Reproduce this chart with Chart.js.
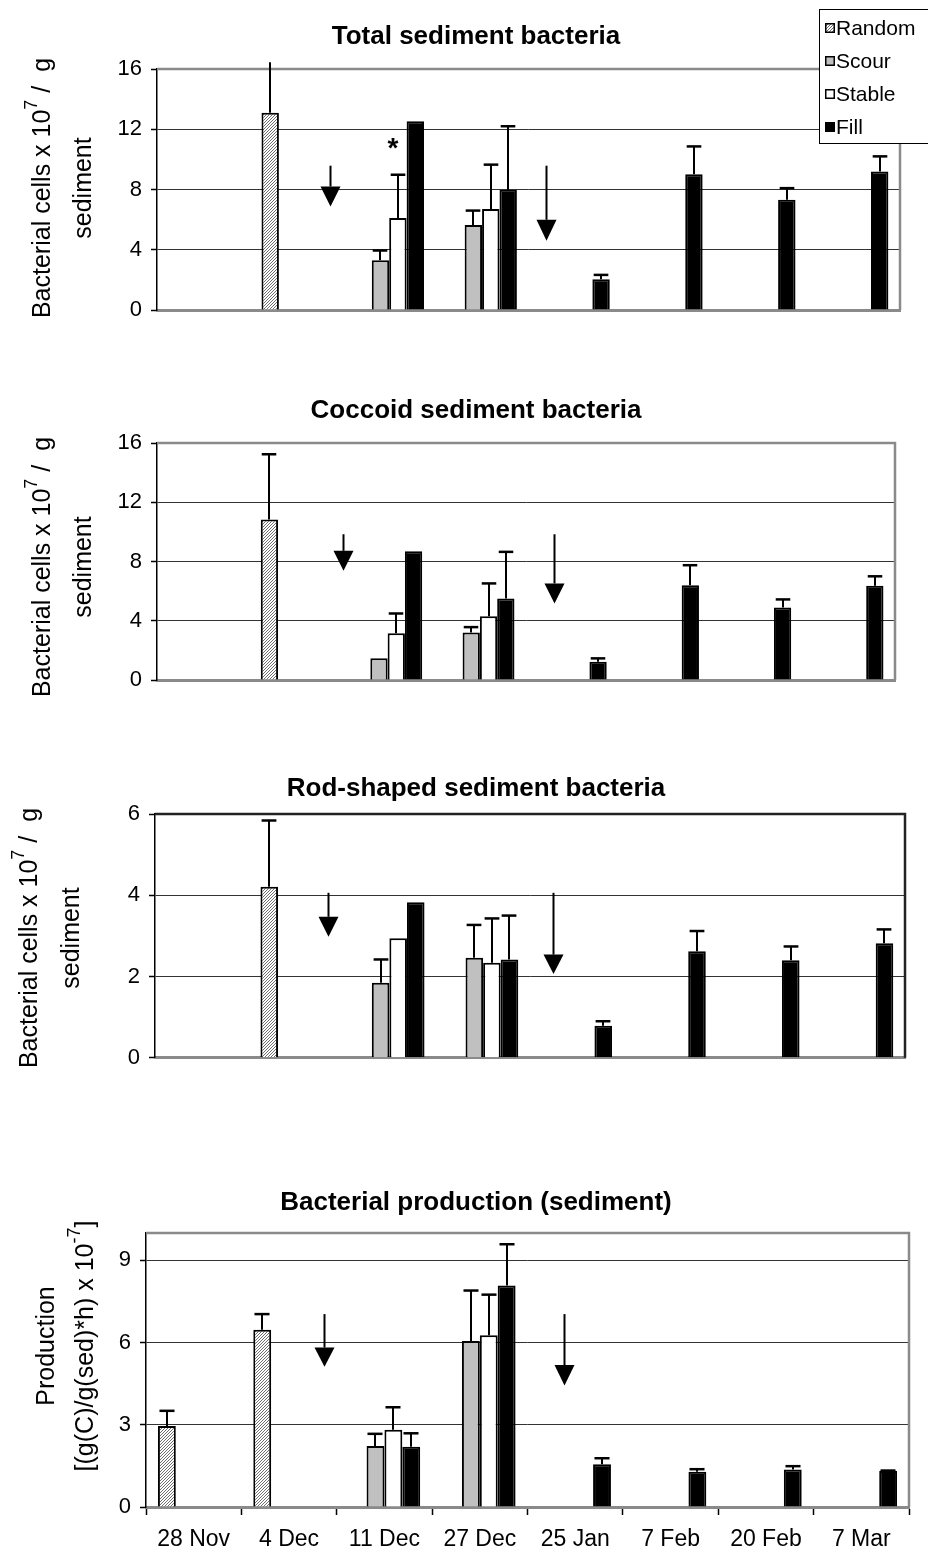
<!DOCTYPE html>
<html><head><meta charset="utf-8">
<script src="https://cdn.jsdelivr.net/npm/chart.js@4.4.1/dist/chart.umd.min.js"></script>
<style>
html,body{margin:0;padding:0;background:#fff;}
body{width:928px;height:1553px;position:relative;overflow:hidden;}
canvas{position:absolute;left:0;}
</style></head><body>
<canvas id="c1" width="928" height="340" style="top:0px"></canvas>
<canvas id="c2" width="928" height="340" style="top:370px"></canvas>
<canvas id="c3" width="928" height="340" style="top:740px"></canvas>
<canvas id="c4" width="928" height="383" style="top:1170px"></canvas>
<script>
// ---------------- DATA ----------------
const dates = ['28 Nov','4 Dec','11 Dec','27 Dec','25 Jan','7 Feb','20 Feb','7 Mar'];
const seriesNames = ['Random','Scour','Stable','Fill'];

// Total sediment bacteria (x10^7 / g sediment)
const totalRandom    = [null, 13.1, null, null, null, null, null, null];
const totalRandomErr = [null, 3.35, null, null, null, null, null, null];
const totalScour     = [null, null, 3.3, 5.65, null, null, null, null];
const totalScourErr  = [null, null, 0.65, 0.95, null, null, null, null];
const totalStable    = [null, null, 6.1, 6.7, null, null, null, null];
const totalStableErr = [null, null, 2.88, 2.95, null, null, null, null];
const totalFill      = [null, null, 12.53, 7.98, 2.04, 9.02, 7.32, 9.2];
const totalFillErr   = [null, null, null, 4.22, 0.29, 1.84, 0.77, 1.0];

// Coccoid sediment bacteria
const coccRandom    = [null, 10.83, null, null, null, null, null, null];
const coccRandomErr = [null, 4.41, null, null, null, null, null, null];
const coccScour     = [null, null, 1.46, 3.21, null, null, null, null];
const coccScourErr  = [null, null, null, 0.36, null, null, null, null];
const coccStable    = [null, null, 3.15, 4.31, null, null, null, null];
const coccStableErr = [null, null, 1.34, 2.21, null, null, null, null];
const coccFill      = [null, null, 8.7, 5.5, 1.24, 6.4, 4.9, 6.36];
const coccFillErr   = [null, null, null, 3.15, 0.22, 1.35, 0.54, 0.64];

// Rod-shaped sediment bacteria
const rodRandom    = [null, 4.21, null, null, null, null, null, null];
const rodRandomErr = [null, 1.63, null, null, null, null, null, null];
const rodScour     = [null, null, 1.85, 2.46, null, null, null, null];
const rodScourErr  = [null, null, 0.57, 0.81, null, null, null, null];
const rodStable    = [null, null, 2.94, 2.34, null, null, null, null];
const rodStableErr = [null, null, null, 1.09, null, null, null, null];
const rodFill      = [null, null, 3.83, 2.42, 0.79, 2.62, 2.4, 2.82];
const rodFillErr   = [null, null, null, 1.08, 0.11, 0.5, 0.34, 0.34];

// Bacterial production (sediment)
const prodRandom    = [2.96, 6.47, null, null, null, null, null, null];
const prodRandomErr = [0.55, 0.57, null, null, null, null, null, null];
const prodScour     = [null, null, 2.23, 6.06, null, null, null, null];
const prodScourErr  = [null, null, 0.44, 1.84, null, null, null, null];
const prodStable    = [null, null, 2.82, 6.27, null, null, null, null];
const prodStableErr = [null, null, 0.82, 1.48, null, null, null, null];
const prodFill      = [null, null, 2.2, 8.08, 1.56, 1.29, 1.37, 1.31];
const prodFillErr   = [null, null, 0.49, 1.51, 0.22, 0.09, 0.12, 0.02];

// Y-axis tick settings
const totalTicks = {max:16, step:4};
const coccTicks  = {max:16, step:4};
const rodTicks   = {max:6,  step:2};
const prodTicks  = {max:10, step:3};

// Arrow annotations: category position, line top value, head base value, tip value
const totalArrows = [[1.36, 9.58, 8.2, 6.87], [3.69, 9.58, 5.99, 4.6]];
const coccArrows  = [[1.52, 9.84, 8.72, 7.37], [3.80, 9.84, 6.52, 5.17]];
const rodArrows   = [[1.35, 4.06, 3.47, 2.98], [3.75, 4.06, 2.54, 2.06]];
const prodArrows  = [[1.37, 7.04, 5.82, 5.12], [3.88, 7.04, 5.18, 4.43]];

// ---------------- STYLE ----------------
Chart.defaults.font.family = "'Liberation Sans', Arial, Helvetica, sans-serif";
Chart.defaults.color = '#000';

function makeHatch(){
  const c = document.createElement('canvas'); c.width = 3; c.height = 3;
  const g = c.getContext('2d');
  g.fillStyle = '#ffffff'; g.fillRect(0,0,3,3);
  g.fillStyle = '#6e6e6e';
  for (let i=0;i<3;i++) g.fillRect(i, 2-i, 1, 1);
  return g.createPattern(c, 'repeat');
}
const hatch = makeHatch();
const seriesColors = [hatch, '#c0c0c0', '#ffffff', '#000000'];

// ---------------- PLUGINS ----------------
const errorBarPlugin = {
  id: 'errorBars',
  afterDatasetsDraw(chart){
    const ctx = chart.ctx, ys = chart.scales.y;
    chart.data.datasets.forEach((ds, di) => {
      if (!ds.errors) return;
      const meta = chart.getDatasetMeta(di);
      meta.data.forEach((bar, i) => {
        const v = ds.data[i], e = ds.errors[i];
        if (v == null || e == null) return;
        const top = v + e;
        const x = Math.round(bar.x);
        const y0 = ys.getPixelForValue(v), y1 = ys.getPixelForValue(top);
        ctx.save();
        ctx.strokeStyle = '#000'; ctx.lineWidth = 2;
        ctx.beginPath(); ctx.moveTo(x, y0); ctx.lineTo(x, y1); ctx.stroke();
        if (top <= ys.max) {
          const hw = bar.width * 0.42;
          ctx.lineWidth = 2.5;
          ctx.beginPath(); ctx.moveTo(x - hw, y1); ctx.lineTo(x + hw, y1); ctx.stroke();
        }
        ctx.restore();
      });
    });
  }
};

const framePlugin = {
  id: 'frame',
  beforeDatasetsDraw(chart, args, opts){
    const a = chart.chartArea, ctx = chart.ctx;
    ctx.save();
    ctx.strokeStyle = opts.color; ctx.lineWidth = opts.width;
    ctx.beginPath();
    ctx.moveTo(a.left, a.top); ctx.lineTo(a.right, a.top); ctx.lineTo(a.right, a.bottom);
    ctx.stroke();
    ctx.restore();
  }
};

const arrowPlugin = {
  id: 'arrows',
  afterDatasetsDraw(chart, args, opts){
    const ctx = chart.ctx, xs = chart.scales.x, ys = chart.scales.y;
    (opts.items || []).forEach(([at, from, base, tip]) => {
      const x = Math.round(xs.getPixelForValue(at)) + 0.5;
      const yTop = ys.getPixelForValue(from), yBase = ys.getPixelForValue(base), yTip = ys.getPixelForValue(tip);
      ctx.save();
      ctx.strokeStyle = '#000'; ctx.fillStyle = '#000'; ctx.lineWidth = 2;
      ctx.beginPath(); ctx.moveTo(x, yTop); ctx.lineTo(x, yBase); ctx.stroke();
      ctx.beginPath(); ctx.moveTo(x - 10, yBase); ctx.lineTo(x + 10, yBase); ctx.lineTo(x, yTip); ctx.closePath(); ctx.fill();
      ctx.restore();
    });
  }
};

const yTitlePlugin = {
  id: 'yTitle',
  afterDraw(chart, args, opts){
    const ctx = chart.ctx, size = opts.size;
    opts.lines.forEach((segs, li) => {
      ctx.save();
      ctx.translate(opts.x[li], opts.yc);
      ctx.rotate(-Math.PI/2);
      ctx.fillStyle = '#000'; ctx.textBaseline = 'middle'; ctx.textAlign = 'left';
      const fontOf = s => (s.sup ? Math.round(size*0.72) : size) + "px 'Liberation Sans', Arial, sans-serif";
      let total = 0;
      segs.forEach(s => { ctx.font = fontOf(s); total += ctx.measureText(s.t).width; });
      let px = -total/2;
      segs.forEach(s => {
        ctx.font = fontOf(s);
        ctx.fillText(s.t, px, s.sup ? -size*0.42 : 0);
        px += ctx.measureText(s.t).width;
      });
      ctx.restore();
    });
  }
};

const starPlugin = {
  id: 'star',
  afterDatasetsDraw(chart, args, opts){
    if (!opts.show) return;
    const bar = chart.getDatasetMeta(opts.dataset).data[opts.index];
    const y = chart.scales.y.getPixelForValue(opts.value);
    const ctx = chart.ctx;
    ctx.save();
    ctx.font = "bold 28px 'Liberation Sans', Arial, sans-serif";
    ctx.textAlign = 'center'; ctx.textBaseline = 'middle'; ctx.fillStyle = '#000';
    ctx.fillText(opts.text, bar.x - 5, y + 5);
    ctx.restore();
  }
};

const legendPlugin = {
  id: 'boxLegend',
  afterDraw(chart, args, opts){
    if (!opts.show) return;
    const ctx = chart.ctx;
    ctx.save();
    ctx.fillStyle = '#fff'; ctx.fillRect(819, 9, 120, 134);
    ctx.strokeStyle = '#000'; ctx.lineWidth = 1;
    ctx.strokeRect(819.5, 9.5, 120, 134);
    ctx.font = "21px 'Liberation Sans', Arial, sans-serif";
    ctx.textBaseline = 'middle'; ctx.textAlign = 'left';
    chart.data.datasets.forEach((ds, i) => {
      const yc = 28 + i*33;
      ctx.fillStyle = ds.backgroundColor;
      ctx.fillRect(825, yc - 5, 10, 10);
      ctx.strokeStyle = '#000'; ctx.lineWidth = 1.5;
      ctx.strokeRect(825.75, yc - 4.25, 8.5, 8.5);
      ctx.fillStyle = '#000';
      ctx.fillText(ds.label, 836, yc + 1);
    });
    ctx.restore();
  }
};

// ---------------- PANELS ----------------
function buildDatasets(vals, errs){
  return seriesNames.map((name, i) => ({
    label: name, data: vals[i], errors: errs[i],
    backgroundColor: seriesColors[i], borderColor: '#000', borderWidth: 2,
    categoryPercentage: 0.75, barPercentage: 1.0
  }));
}

function makePanel(id, p){
  const plotLeft = p.plotLeft, plotRight = p.plotRight;
  const padL = 2*476 - plotRight;
  const H = document.getElementById(id).height;
  const titleA = p.titleMid - 15.6;
  const titleB = p.plotTop - titleA - 31.2;
  new Chart(document.getElementById(id), {
    type: 'bar',
    data: { labels: dates, datasets: buildDatasets(p.vals, p.errs) },
    plugins: [framePlugin, errorBarPlugin, arrowPlugin, yTitlePlugin, starPlugin, legendPlugin],
    options: {
      responsive: false, animation: false, devicePixelRatio: 1,
      layout: { padding: { left: padL, right: 928 - plotRight, top: 0, bottom: 0 } },
      plugins: {
        legend: { display: false }, tooltip: { enabled: false },
        title: { display: true, text: p.title, color: '#000',
                 font: { size: 26, weight: 'bold', lineHeight: 1.2 },
                 padding: { top: titleA, bottom: titleB } },
        frame: { color: p.frameColor, width: 2.5 },
        arrows: { items: p.arrows },
        yTitle: { size: 25, x: p.yTitleX, yc: p.yTitleY, lines: p.yTitleLines },
        star: p.star || { show: false },
        boxLegend: { show: !!p.legend }
      },
      scales: {
        x: {
          grid: p.xLabels ? { display: true, offset: true, drawOnChartArea: false, drawTicks: true,
                              tickLength: 8, tickColor: '#000', tickWidth: 1.5, color: '#000' }
                          : { display: false },
          ticks: p.xLabels ? { display: true, font: { size: 23 }, color: '#000', padding: 11, maxRotation: 0, autoSkip: false }
                           : { display: false },
          border: { display: true, color: '#8a8a8a', width: 3 },
          afterFit(s){ s.height = H - p.plotBottom; }
        },
        y: {
          min: 0, max: p.ticks.max,
          ticks: { stepSize: p.ticks.step, includeBounds: false, font: { size: 22 }, color: '#000', padding: 9 },
          grid: {
            color: c => (c.tick && (c.tick.value === 0 || c.tick.value >= p.ticks.max)) ? 'rgba(0,0,0,0)' : '#333',
            lineWidth: 1, tickLength: 6, tickColor: '#000', tickWidth: 1.5
          },
          border: { display: true, color: '#000', width: 1.5 },
          afterFit(s){ s.width = plotLeft - padL; }
        }
      }
    }
  });
}

const cellsLine1 = [{t:'Bacterial cells x 10'}, {t:'7', sup:true}, {t:' /  g'}];
const cellsLine2 = [{t:'sediment'}];

makePanel('c1', {
  title: 'Total sediment bacteria', titleMid: 37, plotTop: 69, plotBottom: 310, plotLeft: 157, plotRight: 900,
  vals: [totalRandom, totalScour, totalStable, totalFill],
  errs: [totalRandomErr, totalScourErr, totalStableErr, totalFillErr],
  ticks: totalTicks, arrows: totalArrows, frameColor: '#8a8a8a',
  yTitleX: [43, 84], yTitleY: 188, yTitleLines: [cellsLine1, cellsLine2],
  star: { show: true, dataset: 2, index: 2, value: 11.0, text: '*' },
  legend: true
});
makePanel('c2', {
  title: 'Coccoid sediment bacteria', titleMid: 41, plotTop: 73, plotBottom: 310, plotLeft: 157, plotRight: 895,
  vals: [coccRandom, coccScour, coccStable, coccFill],
  errs: [coccRandomErr, coccScourErr, coccStableErr, coccFillErr],
  ticks: coccTicks, arrows: coccArrows, frameColor: '#8a8a8a',
  yTitleX: [43, 84], yTitleY: 197, yTitleLines: [cellsLine1, cellsLine2]
});
makePanel('c3', {
  title: 'Rod-shaped sediment bacteria', titleMid: 49, plotTop: 74, plotBottom: 323, plotLeft: 155, plotRight: 905,
  vals: [rodRandom, rodScour, rodStable, rodFill],
  errs: [rodRandomErr, rodScourErr, rodStableErr, rodFillErr],
  ticks: rodTicks, arrows: rodArrows, frameColor: '#222',
  yTitleX: [30, 72], yTitleY: 198, yTitleLines: [cellsLine1, cellsLine2]
});
makePanel('c4', {
  title: 'Bacterial production (sediment)', titleMid: 33, plotTop: 63, plotBottom: 337, plotLeft: 146, plotRight: 909,
  vals: [prodRandom, prodScour, prodStable, prodFill],
  errs: [prodRandomErr, prodScourErr, prodStableErr, prodFillErr],
  ticks: prodTicks, arrows: prodArrows, frameColor: '#8a8a8a', xLabels: true,
  yTitleX: [47, 86], yTitleY: 176,
  yTitleLines: [[{t:'Production'}], [{t:'[(g(C)/g(sed)*h) x 10'}, {t:'-7', sup:true}, {t:']'}]]
});
</script>
</body></html>
